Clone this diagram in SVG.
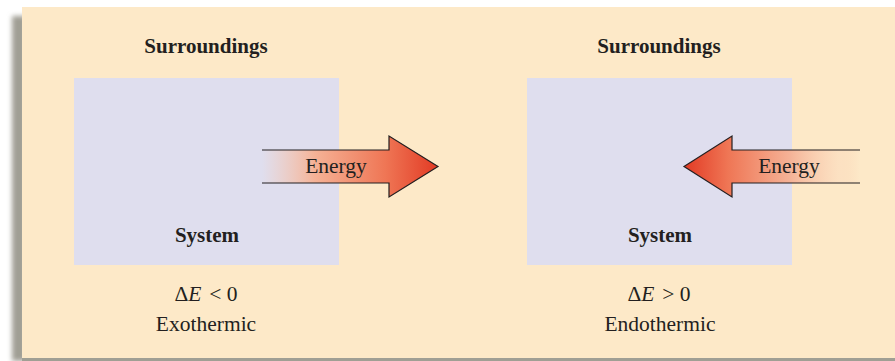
<svg xmlns="http://www.w3.org/2000/svg" width="895" height="361" viewBox="0 0 895 361">
<defs>
<filter id="blur" x="-50%" y="-5%" width="200%" height="110%"><feGaussianBlur stdDeviation="2.5"/></filter>
<linearGradient id="gR" x1="262" y1="0" x2="438" y2="0" gradientUnits="userSpaceOnUse">
<stop offset="0" stop-color="#f9c4a8" stop-opacity="0"/><stop offset="0.3" stop-color="#f5b296"/><stop offset="0.7" stop-color="#ef7655"/><stop offset="1" stop-color="#e23a24"/>
</linearGradient>
<linearGradient id="gL" x1="860" y1="0" x2="684" y2="0" gradientUnits="userSpaceOnUse">
<stop offset="0" stop-color="#f9c4a8" stop-opacity="0"/><stop offset="0.12" stop-color="#fbd9bc" stop-opacity="0.5"/><stop offset="0.4" stop-color="#f5b296"/><stop offset="0.75" stop-color="#ef7655"/><stop offset="1" stop-color="#e23a24"/>
</linearGradient>
<style>
.t{font-family:"Liberation Serif","Times New Roman",serif;fill:#231f20;text-anchor:middle}
.b{font-weight:bold;font-size:21px}
.r{font-size:21.5px}
.box{fill:#dfdeee}
.edge{fill:none;stroke:#231f20;stroke-width:1.2}
</style>
</defs>
<rect x="12" y="16" width="14" height="345" fill="#a09f94" filter="url(#blur)"/>
<rect x="22" y="357" width="873" height="4" fill="#a09f94"/>
<rect x="22" y="7" width="873" height="351" fill="#fde9c8"/>
<g id="exo">
<rect class="box" x="74" y="78" width="265" height="187"/>
<text class="t b" x="206" y="53">Surroundings</text>
<text class="t b" x="207" y="242">System</text>
<text class="t r" x="206" y="301"><tspan>Δ</tspan><tspan font-style="italic">E</tspan><tspan dx="8">&lt; 0</tspan></text>
<text class="t r" x="206" y="331">Exothermic</text>
</g>
<g id="endo">
<rect class="box" x="527" y="78" width="265" height="187"/>
<text class="t b" x="659" y="53">Surroundings</text>
<text class="t b" x="660" y="242">System</text>
<text class="t r" x="659" y="301"><tspan>Δ</tspan><tspan font-style="italic">E</tspan><tspan dx="8">&gt; 0</tspan></text>
<text class="t r" x="660" y="331">Endothermic</text>
</g>
<g id="connectors">
<g id="arrowOut">
<path d="M262 150 H389 V136 L438 166.5 L389 197 V183 H262 Z" fill="url(#gR)"/>
<path class="edge" d="M262 150 H389 V136 L438 166.5 L389 197 V183 H262"/>
<text class="t r" x="336" y="173">Energy</text>
</g>
<g id="arrowIn">
<path d="M860 150 H732 V136 L684 166.5 L732 197 V183 H860 Z" fill="url(#gL)"/>
<path class="edge" d="M860 150 H732 V136 L684 166.5 L732 197 V183 H860"/>
<text class="t r" x="789" y="173">Energy</text>
</g>
</g>
</svg>
